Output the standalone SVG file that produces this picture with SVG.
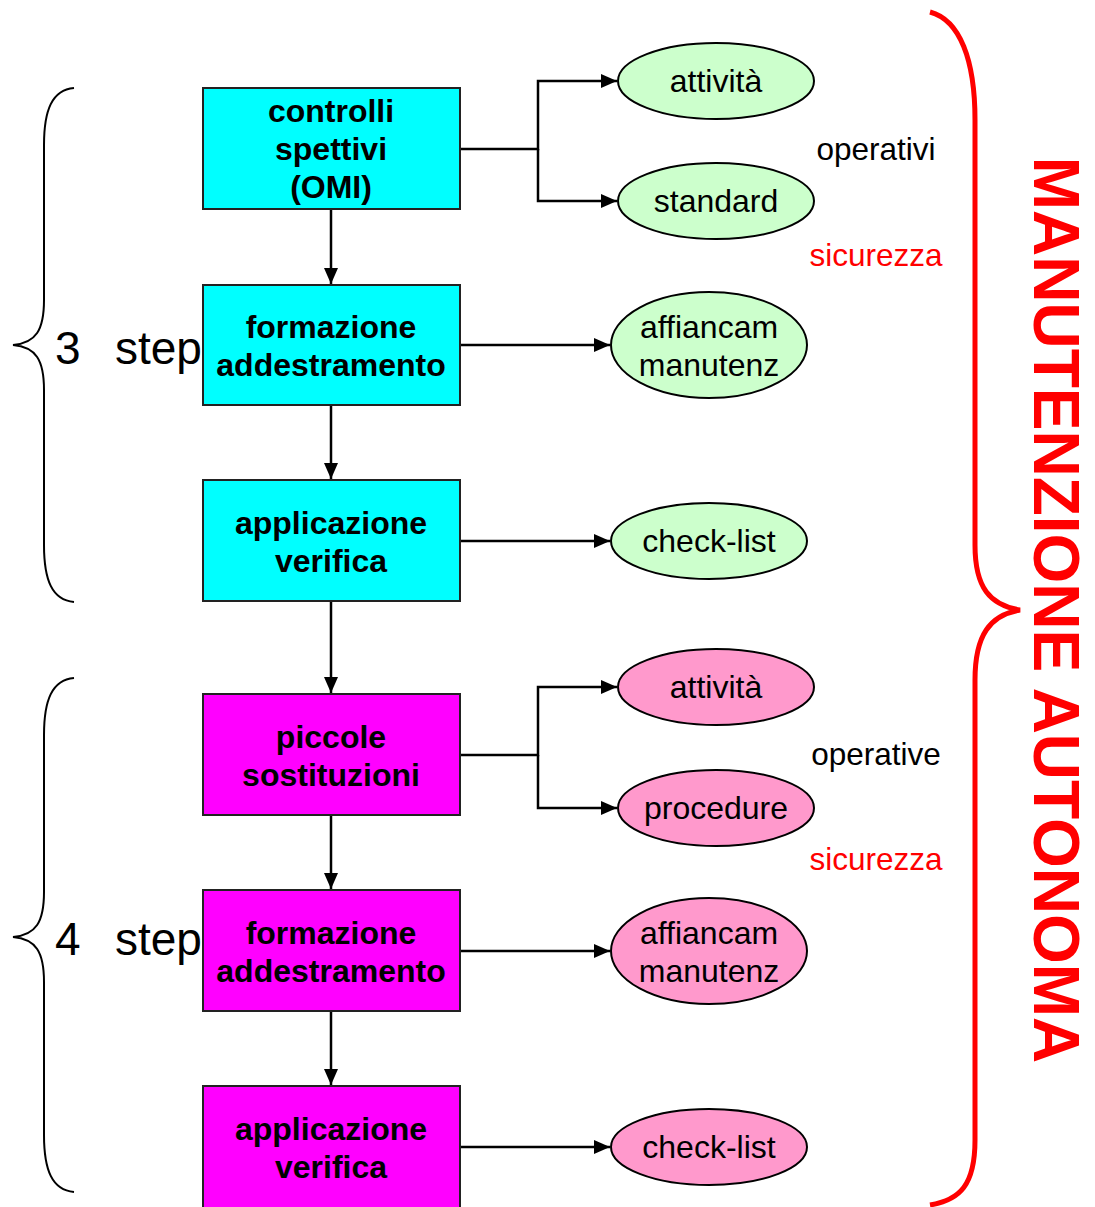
<svg xmlns="http://www.w3.org/2000/svg" width="1095" height="1207" viewBox="0 0 1095 1207">
<defs>
<marker id="ah" viewBox="0 0 16 14" refX="16" refY="7" markerWidth="16" markerHeight="14" markerUnits="userSpaceOnUse" orient="auto">
<path d="M0,0 L16,7 L0,14 Z" fill="#000"/>
</marker>
<style>
.box{stroke:#222;stroke-width:2}
.cy{fill:#00FFFF}
.mg{fill:#FF00FF}
.ell{stroke:#000;stroke-width:2}
.gr{fill:#CCFFCC}
.pk{fill:#FF99CC}
.bt{font-family:"Liberation Sans",Arial,sans-serif;font-weight:bold;font-size:32px;text-anchor:middle;fill:#000}
.et{font-family:"Liberation Sans",Arial,sans-serif;font-size:32px;text-anchor:middle;fill:#000}
.lt{font-family:"Liberation Sans",Arial,sans-serif;font-size:31.5px;text-anchor:middle}
.st{font-family:"Liberation Sans",Arial,sans-serif;font-size:46px;fill:#000}
.con{fill:none;stroke:#000;stroke-width:2.5}
.brace{fill:none;stroke:#000;stroke-width:2}
</style>
</defs>
<rect width="1095" height="1207" fill="#fff"/>

<g id="connectors">
<path class="con" d="M460,149 H538 V81 H617" marker-end="url(#ah)"/>
<path class="con" d="M538,149 V201 H617" marker-end="url(#ah)"/>
<path class="con" d="M460,345 H610" marker-end="url(#ah)"/>
<path class="con" d="M460,541 H610" marker-end="url(#ah)"/>
<path class="con" d="M460,755 H538 V687 H617" marker-end="url(#ah)"/>
<path class="con" d="M538,755 V808 H617" marker-end="url(#ah)"/>
<path class="con" d="M460,951 H610" marker-end="url(#ah)"/>
<path class="con" d="M460,1147 H610" marker-end="url(#ah)"/>
<path class="con" d="M331,209 V284" marker-end="url(#ah)"/>
<path class="con" d="M331,405 V479" marker-end="url(#ah)"/>
<path class="con" d="M331,601 V693" marker-end="url(#ah)"/>
<path class="con" d="M331,815 V889" marker-end="url(#ah)"/>
<path class="con" d="M331,1011 V1085" marker-end="url(#ah)"/>
</g>

<g id="brace3">
<path class="brace" d="M74,88 C52,90 44,110 44,145 L44,300 C44,330 36,343 13,345 C36,347 44,360 44,390 L44,545 C44,580 52,600 74,602"/>
<text class="st" x="55" y="364">3</text>
<text class="st" x="115" y="364">step</text>
</g>
<g id="brace4">
<path class="brace" d="M74,678 C52,680 44,700 44,735 L44,892 C44,922 36,935 13,937 C36,939 44,952 44,982 L44,1135 C44,1170 52,1190 74,1192"/>
<text class="st" x="55" y="955">4</text>
<text class="st" x="115" y="955">step</text>
</g>

<g id="n-controlli">
<rect class="box cy" x="203" y="88" width="257" height="121"/>
<text class="bt" x="331" y="122">controlli</text>
<text class="bt" x="331" y="160">spettivi</text>
<text class="bt" x="331" y="198">(OMI)</text>
</g>
<g id="n-formazione1">
<rect class="box cy" x="203" y="285" width="257" height="120"/>
<text class="bt" x="331" y="338">formazione</text>
<text class="bt" x="331" y="376">addestramento</text>
</g>
<g id="n-applicazione1">
<rect class="box cy" x="203" y="480" width="257" height="121"/>
<text class="bt" x="331" y="534">applicazione</text>
<text class="bt" x="331" y="572">verifica</text>
</g>
<g id="n-piccole">
<rect class="box mg" x="203" y="694" width="257" height="121"/>
<text class="bt" x="331" y="748">piccole</text>
<text class="bt" x="331" y="786">sostituzioni</text>
</g>
<g id="n-formazione2">
<rect class="box mg" x="203" y="890" width="257" height="121"/>
<text class="bt" x="331" y="944">formazione</text>
<text class="bt" x="331" y="982">addestramento</text>
</g>
<g id="n-applicazione2">
<rect class="box mg" x="203" y="1086" width="257" height="122"/>
<text class="bt" x="331" y="1140">applicazione</text>
<text class="bt" x="331" y="1178">verifica</text>
</g>

<g id="e-attivita1">
<ellipse class="ell gr" cx="716" cy="81" rx="98" ry="38"/>
<text class="et" x="716" y="92">attività</text>
</g>
<g id="e-standard">
<ellipse class="ell gr" cx="716" cy="201" rx="98" ry="38"/>
<text class="et" x="716" y="212">standard</text>
</g>
<g id="e-affiancam1">
<ellipse class="ell gr" cx="709" cy="345" rx="98" ry="53"/>
<text class="et" x="709" y="338">affiancam</text>
<text class="et" x="709" y="376">manutenz</text>
</g>
<g id="e-checklist1">
<ellipse class="ell gr" cx="709" cy="541" rx="98" ry="38"/>
<text class="et" x="709" y="552">check-list</text>
</g>
<g id="e-attivita2">
<ellipse class="ell pk" cx="716" cy="687" rx="98" ry="38"/>
<text class="et" x="716" y="698">attività</text>
</g>
<g id="e-procedure">
<ellipse class="ell pk" cx="716" cy="808" rx="98" ry="38"/>
<text class="et" x="716" y="819">procedure</text>
</g>
<g id="e-affiancam2">
<ellipse class="ell pk" cx="709" cy="951" rx="98" ry="53"/>
<text class="et" x="709" y="944">affiancam</text>
<text class="et" x="709" y="982">manutenz</text>
</g>
<g id="e-checklist2">
<ellipse class="ell pk" cx="709" cy="1147" rx="98" ry="38"/>
<text class="et" x="709" y="1158">check-list</text>
</g>

<g id="labels">
<text class="lt" x="876" y="160" fill="#000">operativi</text>
<text class="lt" x="876" y="266" fill="#FF0000">sicurezza</text>
<text class="lt" x="876" y="765" fill="#000">operative</text>
<text class="lt" x="876" y="870" fill="#FF0000">sicurezza</text>
</g>

<g id="manutenzione-autonoma">
<path d="M930,12 C960,20 975,60 975,120 L975,545 C975,588 990,605 1020,610 C990,615 975,635 975,680 L975,1140 C975,1185 960,1200 930,1205" fill="none" stroke="#FF0000" stroke-width="5"/>
<text transform="translate(1034,610) rotate(90)" font-family="'Liberation Sans',Arial,sans-serif" font-weight="bold" font-size="64" fill="#FF0000" text-anchor="middle">MANUTENZIONE AUTONOMA</text>
</g>
</svg>
